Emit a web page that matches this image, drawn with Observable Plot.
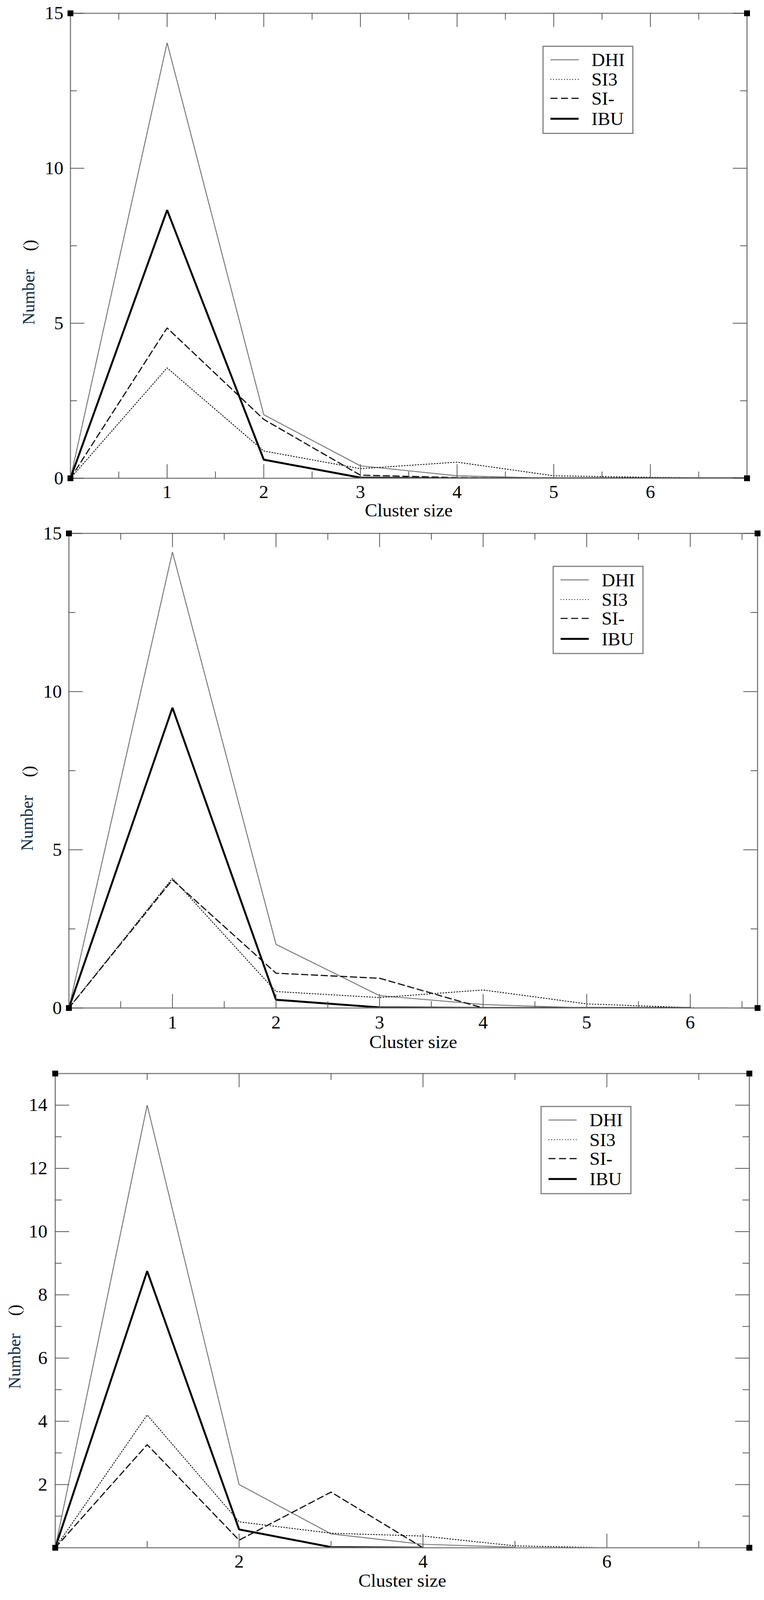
<!DOCTYPE html>
<html><head><meta charset="utf-8">
<script src="https://cdn.jsdelivr.net/npm/d3@7"></script>
<script src="https://cdn.jsdelivr.net/npm/@observablehq/plot@0.6"></script>
<style>
html,body{margin:0;padding:0;background:#fff;overflow:hidden}
#wrap{position:relative;width:1957px;height:4150px;background:#fff;overflow:hidden;transform-origin:0 0}
.panel{position:absolute;left:0;width:1957px}
.panel svg{display:block;overflow:visible;background:transparent}
.panel svg text{font-family:'Liberation Serif','Times New Roman',serif}
</style>
</head><body><div id="wrap"></div>
<script>
// ---------- data ----------
const seriesNames = ["DHI", "SI3", "SI-", "IBU"];
const clusterSize = [0, 1, 2, 3, 4, 5, 6, 7];

// panel 1
const dhiA = [0, 14.05, 2.05, 0.40, 0.08, 0.0, 0.0, 0.0];
const si3A = [0, 3.56, 0.88, 0.31, 0.52, 0.08, 0.03, 0.0];
const siA  = [0, 4.85, 1.90, 0.10, 0.02, 0.0, 0.0, 0.0];
const ibuA = [0, 8.65, 0.60, 0.02, 0.0, 0.0, 0.0, 0.0];

// panel 2
const dhiB = [0, 14.41, 2.01, 0.39, 0.11, 0.0, 0.0];
const si3B = [0, 4.10, 0.52, 0.33, 0.57, 0.13, 0.01, 0.0];
const siB  = [0, 4.05, 1.10, 0.94, 0.0];
const ibuB = [0, 9.49, 0.26, 0.02, 0.0, 0.0, 0.0];

// panel 3
const dhiC = [0, 14.0, 2.0, 0.44, 0.11, 0.02];
const si3C = [0, 4.2, 0.82, 0.46, 0.37, 0.06, 0.0];
const siC  = [0, 3.26, 0.24, 1.76, 0.0];
const ibuC = [0, 8.75, 0.58, 0.02, 0.0];

// ticks
const xMajorAB = [1, 2, 3, 4, 5, 6];
const xMinorAB = [0.5, 1.5, 2.5, 3.5, 4.5, 5.5, 6.5];
const yMajorAB = [0, 5, 10, 15];
const yMinorAB = [2.5, 7.5, 12.5];
const xMajorC = [2, 4, 6];
const xMinorC = [1, 3, 5, 7];
const yMajorC = [2, 4, 6, 8, 10, 12, 14];
const yMinorC = [1, 3, 5, 7, 9, 11, 13];

const xLabel = "Cluster size";
const yLabel = "Number";
const yUnit = "()";

// ---------- styling / layout ----------
const FONT = "Liberation Serif";
const styles = {
  "DHI": {stroke: "#7a7a7a", strokeWidth: 2.5, dash: null},
  "SI3": {stroke: "#000", strokeWidth: 2.2, dash: "2,5"},
  "SI-": {stroke: "#111", strokeWidth: 3, dash: "16,9"},
  "IBU": {stroke: "#000", strokeWidth: 5, dash: null}
};

const panels = [
  {top: 0, height: 1330, ml: 180, mr: 44, mt: 34, mb: 90, xDomain: [0, 7], yDomain: [0, 15],
   series: [dhiA, si3A, siA, ibuA], xMajor: xMajorAB, xMinor: xMinorAB, yMajor: yMajorAB, yMinor: yMinorAB,
   xTickPad: 17, yTickPad: 18, xLabDy: 84, numDx: -107, numDy: 133, unitDx: -105, unitDy: -1,
   legLeft: 1391, legTop: 120},
  {top: 1330, height: 1400, ml: 176, mr: 17, mt: 53, mb: 116, xDomain: [0, 6.65], yDomain: [0, 15],
   series: [dhiB, si3B, siB, ibuB], xMajor: xMajorAB, xMinor: xMinorAB, yMajor: yMajorAB, yMinor: yMinorAB,
   xTickPad: 19, yTickPad: 18, xLabDy: 89, numDx: -107, numDy: 136, unitDx: -103, unitDy: 2,
   legLeft: 1417, legTop: 139},
  {top: 2730, height: 1420, ml: 141, mr: 38, mt: 54, mb: 136, xDomain: [0, 7.55], yDomain: [0, 15],
   series: [dhiC, si3C, siC, ibuC], xMajor: xMajorC, xMinor: xMinorC, yMajor: yMajorC, yMinor: yMinorC,
   xTickPad: 17, yTickPad: 20, xLabDy: 86, numDx: -104, numDy: 131, unitDx: -104, unitDy: -1,
   legLeft: 1386, legTop: 140}
];

const W = 1957, H = 4150;
const wrap = document.getElementById("wrap");

// fit the fixed 1957x4150 layout into the actual viewport (identity when they match)
(function fit() {
  const sx = window.innerWidth / W, sy = window.innerHeight / H;
  if (sx > 0.8 && sx < 1.2 && sy > 0.8 && sy < 1.2 && (Math.abs(sx - 1) > 0.001 || Math.abs(sy - 1) > 0.001)) {
    wrap.style.transform = `scale(${sx},${sy})`;
  }
})();

panels.forEach(p => {
  const fw = W - p.ml - p.mr;
  const fh = p.height - p.mt - p.mb;
  const majL = 36, minL = 17;
  const tickStyle = {stroke: "#555", strokeWidth: 2};

  const lineMarks = seriesNames.map((name, i) => {
    const vals = p.series[i];
    const data = vals.map((v, j) => ({x: clusterSize[j], y: v}));
    const s = styles[name];
    return Plot.line(data, {x: "x", y: "y", stroke: s.stroke, strokeWidth: s.strokeWidth,
      strokeDasharray: s.dash, clip: true, strokeLinejoin: "miter"});
  });

  const corners = [
    {x: p.xDomain[0], y: p.yDomain[0]}, {x: p.xDomain[1], y: p.yDomain[0]},
    {x: p.xDomain[0], y: p.yDomain[1]}, {x: p.xDomain[1], y: p.yDomain[1]}
  ];

  const chart = Plot.plot({
    width: W, height: p.height,
    marginLeft: p.ml, marginRight: p.mr, marginTop: p.mt, marginBottom: p.mb,
    style: {fontFamily: FONT, fontSize: "48px", background: "transparent", color: "#000", overflow: "visible"},
    x: {domain: p.xDomain},
    y: {domain: p.yDomain},
    marks: [
      ...lineMarks,
      Plot.frame({stroke: "#808080", strokeWidth: 3}),
      // inward ticks on all four sides
      Plot.ruleX(p.xMajor, {x: d => d, insetTop: fh - majL, ...tickStyle}),
      Plot.ruleX(p.xMinor, {x: d => d, insetTop: fh - minL, ...tickStyle}),
      Plot.ruleX(p.xMajor, {x: d => d, insetBottom: fh - majL, ...tickStyle}),
      Plot.ruleX(p.xMinor, {x: d => d, insetBottom: fh - minL, ...tickStyle}),
      Plot.ruleY(p.yMajor, {y: d => d, insetRight: fw - majL, ...tickStyle}),
      Plot.ruleY(p.yMinor, {y: d => d, insetRight: fw - minL, ...tickStyle}),
      Plot.ruleY(p.yMajor, {y: d => d, insetLeft: fw - majL, ...tickStyle}),
      Plot.ruleY(p.yMinor, {y: d => d, insetLeft: fw - minL, ...tickStyle}),
      Plot.dot(corners, {x: "x", y: "y", symbol: "square", r: 8.5, fill: "#000", stroke: "none"}),
      Plot.axisX(p.xMajor, {tickSize: 0, tickPadding: p.xTickPad, tickFormat: d => String(d), fontSize: 48, fontFamily: FONT, label: null, fill: "#000"}),
      Plot.axisY(p.yMajor, {tickSize: 0, tickPadding: p.yTickPad, tickFormat: d => String(d), fontSize: 48, fontFamily: FONT, label: null, fill: "#000"}),
      Plot.text([xLabel], {frameAnchor: "bottom", dy: p.xLabDy, text: d => d, fontSize: 48, fontFamily: FONT, fill: "#000", lineAnchor: "middle"}),
      Plot.text([yLabel], {frameAnchor: "left", dx: p.numDx, dy: p.numDy, rotate: -90, text: d => d, fontSize: 44, fontFamily: FONT, fill: "#0d2b45", lineAnchor: "middle", textAnchor: "middle"}),
      Plot.text([yUnit], {frameAnchor: "left", dx: p.unitDx, dy: p.unitDy, rotate: -90, text: d => d, fontSize: 44, fontFamily: FONT, fill: "#000", lineAnchor: "middle", textAnchor: "middle"})
    ]
  });

  // legend box
  const svg = d3.select(chart);
  const g = svg.append("g").attr("transform", `translate(${p.legLeft},${p.legTop})`);
  g.append("rect").attr("width", 230).attr("height", 226)
    .attr("fill", "#fff").attr("stroke", "#808080").attr("stroke-width", 3);
  const rows = [35, 86, 135, 188];
  seriesNames.forEach((name, i) => {
    const s = styles[name];
    g.append("line").attr("x1", 19).attr("x2", 91).attr("y1", rows[i]).attr("y2", rows[i])
      .attr("stroke", s.stroke).attr("stroke-width", s.strokeWidth)
      .attr("stroke-dasharray", name === "SI-" ? "18,9" : s.dash);
    g.append("text").attr("x", 124).attr("y", rows[i]).attr("dy", "0.34em")
      .attr("text-anchor", "start")
      .attr("font-family", FONT).attr("font-size", 48).attr("fill", "#000").text(name);
  });

  const div = document.createElement("div");
  div.className = "panel";
  div.style.top = p.top + "px";
  div.style.height = p.height + "px";
  div.appendChild(chart);
  wrap.appendChild(div);
});
</script>
</body></html>
